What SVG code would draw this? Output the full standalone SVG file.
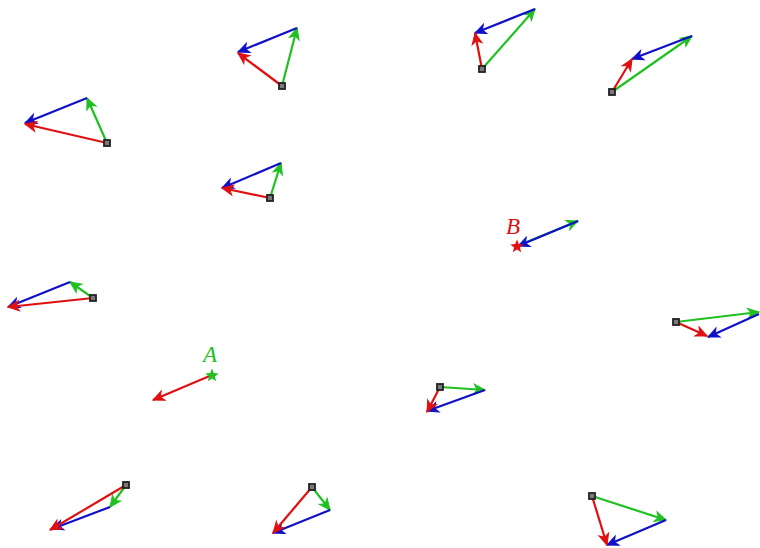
<svg xmlns="http://www.w3.org/2000/svg" width="760" height="548" viewBox="0 0 760 548">
<style>
.r{stroke:#e01010;stroke-width:2.2;fill:none;marker-end:url(#mr)}
.g{stroke:#20c020;stroke-width:2.2;fill:none;marker-end:url(#mg)}
.b{stroke:#1010c8;stroke-width:2.2;fill:none;marker-end:url(#mb)}
.sq{fill:#7a7a7a;stroke:#222;stroke-width:1.8}
.lbl{font-family:"Liberation Serif",serif;font-style:italic;font-size:23px}
</style>
<defs>
<marker id="mr" markerUnits="userSpaceOnUse" markerWidth="14" markerHeight="14" refX="12" refY="6" orient="auto" overflow="visible"><path d="M1,1 L12,6 L1,11 L4,6 Z" fill="#e01010" stroke="#e01010" stroke-width="1"/></marker>
<marker id="mg" markerUnits="userSpaceOnUse" markerWidth="14" markerHeight="14" refX="12" refY="6" orient="auto" overflow="visible"><path d="M1,1 L12,6 L1,11 L4,6 Z" fill="#20c020" stroke="#20c020" stroke-width="1"/></marker>
<marker id="mb" markerUnits="userSpaceOnUse" markerWidth="14" markerHeight="14" refX="12" refY="6" orient="auto" overflow="visible"><path d="M1,1 L12,6 L1,11 L4,6 Z" fill="#1010c8" stroke="#1010c8" stroke-width="1"/></marker>
</defs>
<rect width="760" height="548" fill="#fff"/>
<g id="connectors">
<line class="g" x1="107" y1="143" x2="87" y2="98"/><line class="b" x1="87" y1="98" x2="25" y2="123"/><line class="r" x1="107" y1="143" x2="25" y2="124"/>
<line class="g" x1="282" y1="86" x2="297" y2="28"/><line class="b" x1="297" y1="28" x2="238" y2="52"/><line class="r" x1="282" y1="86" x2="238" y2="53"/>
<line class="g" x1="482" y1="69" x2="535" y2="9"/><line class="b" x1="535" y1="9" x2="475" y2="33"/><line class="r" x1="482" y1="69" x2="475" y2="33"/>
<line class="g" x1="612" y1="92" x2="692" y2="36"/><line class="b" x1="692" y1="36" x2="632" y2="59"/><line class="r" x1="612" y1="92" x2="632" y2="59"/>
<line class="g" x1="270" y1="198" x2="281" y2="163"/><line class="b" x1="281" y1="163" x2="222" y2="188"/><line class="r" x1="270" y1="198" x2="222" y2="188"/>
<line class="g" x1="517" y1="246" x2="578" y2="221"/><line class="b" x1="578" y1="221" x2="518" y2="246"/>
<line class="g" x1="93" y1="298" x2="70" y2="282"/><line class="b" x1="70" y1="282" x2="8" y2="307"/><line class="r" x1="93" y1="298" x2="8" y2="307"/>
<line class="g" x1="676" y1="322" x2="759" y2="312"/><line class="b" x1="759" y1="314" x2="708" y2="337"/><line class="r" x1="676" y1="322" x2="707" y2="336"/>
<line class="r" x1="212" y1="375" x2="153" y2="400"/>
<line class="g" x1="440" y1="387" x2="485" y2="390"/><line class="b" x1="485" y1="390" x2="427" y2="411"/><line class="r" x1="440" y1="387" x2="427" y2="412"/>
<line class="g" x1="126" y1="485" x2="110" y2="507"/><line class="b" x1="110" y1="507" x2="52" y2="529"/><line class="r" x1="126" y1="485" x2="50" y2="530"/>
<line class="g" x1="312" y1="487" x2="330" y2="510"/><line class="b" x1="330" y1="510" x2="273" y2="533"/><line class="r" x1="312" y1="487" x2="273" y2="533"/>
<line class="g" x1="592" y1="496" x2="666" y2="520"/><line class="b" x1="666" y1="520" x2="607" y2="545"/><line class="r" x1="592" y1="496" x2="607" y2="545"/>
</g>
<g id="n1"><rect class="sq" x="104" y="140" width="6" height="6"/></g>
<g id="n2"><rect class="sq" x="279" y="83" width="6" height="6"/></g>
<g id="n3"><rect class="sq" x="479" y="66" width="6" height="6"/></g>
<g id="n4"><rect class="sq" x="609" y="89" width="6" height="6"/></g>
<g id="n5"><rect class="sq" x="267" y="195" width="6" height="6"/></g>
<g id="n6"><rect class="sq" x="90" y="295" width="6" height="6"/></g>
<g id="n7"><rect class="sq" x="673" y="319" width="6" height="6"/></g>
<g id="n8"><rect class="sq" x="437" y="384" width="6" height="6"/></g>
<g id="n9"><rect class="sq" x="123" y="482" width="6" height="6"/></g>
<g id="n10"><rect class="sq" x="309" y="484" width="6" height="6"/></g>
<g id="n11"><rect class="sq" x="589" y="493" width="6" height="6"/></g>
<g id="A"><path d="M212,368.5 L213.8,373.1 L218.7,373.4 L214.9,376.5 L216.2,381.3 L212,378.6 L207.8,381.3 L209.1,376.5 L205.3,373.4 L210.2,373.1 Z" fill="#20c020"/><text class="lbl" x="203" y="362" fill="#20c020">A</text></g>
<g id="B"><path d="M517,239.5 L518.8,244.1 L523.7,244.4 L519.9,247.5 L521.2,252.3 L517,249.6 L512.8,252.3 L514.1,247.5 L510.3,244.4 L515.2,244.1 Z" fill="#e01010"/><text class="lbl" x="506" y="234" fill="#e01010">B</text></g>
</svg>
